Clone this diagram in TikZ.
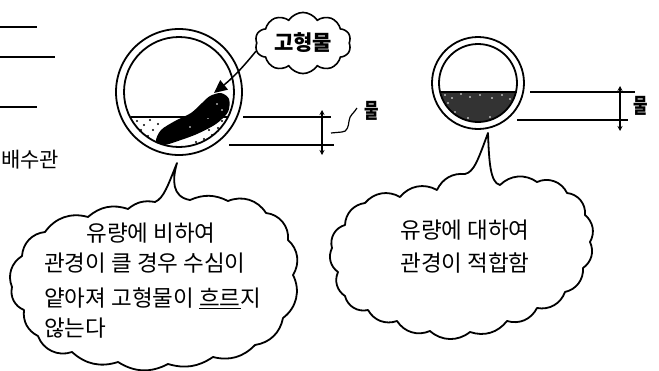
\documentclass[tikz,border=0pt]{standalone}
\usepackage{fontspec}
\setmainfont{Noto Sans CJK KR}
\usetikzlibrary{arrows.meta,shapes.symbols,positioning}

\tikzset{
  pipe/.style={line width=1.8pt},
  bubble/.style={line width=1.8pt, line join=round, fill=white},
  dimline/.style={line width=1.1pt},
  say/.style={font=\fontsize{22.5}{22.5}\selectfont, inner sep=0pt},
  depth/.style={xscale=.75, inner sep=0pt, font=\bfseries\fontsize{21}{21}\selectfont},
}

\begin{document}
\begin{tikzpicture}[x=1pt,y=-1pt]
  \useasboundingbox (0,0) rectangle (659,370);

  % cut-off lines of the drain pipe drawn on the left
  \draw[line width=1.5pt] (0,27) -- (37,27);
  \draw[line width=2.3pt] (0,57) -- (55,57);
  \draw[line width=1.5pt] (0,107) -- (37,107);
  \node[anchor=west, inner sep=0pt, font=\fontsize{21}{21}\selectfont] (drain) at (1,160) {배수관};

  % pipe too big: thin layer of water, solids stuck
  \begin{scope}
    \clip (179,92) circle[radius=55];
    \foreach \p in {(137,121),(144,125),(150,120),(141,130),(153,130),(158,124),
                    (148,136),(165,147),(172,150),(180,152),(188,147),(196,142),
                    (204,139),(212,135),(218,128),(222,121),(209,130),(200,146),
                    (190,152),(215,122),(160,139),(226,124)}
      \fill \p circle[radius=1.1];
  \end{scope}
  \fill plot[smooth cycle] coordinates {(156,141) (161,130) (175,121) (191,113)
    (202,103) (210,96) (221,93) (229,99) (228,112) (216,124) (197,134) (178,141) (164,145)};
  \foreach \p in {(217,104),(222,110),(208,118),(190,127)}
    \fill[white] \p circle[radius=.8];
  \draw[line width=1.3pt] (131,117) -- (228,117);
  \draw[pipe] (179,92) circle[radius=63];
  \draw[pipe] (179,92) circle[radius=55];
  \coordinate (lump) at (214,93);

  % label cloud and its arrow
  \node[cloud, draw, line width=1.6pt, cloud puffs=10, cloud puff arc=115, aspect=1.65,
        minimum width=96pt, minimum height=58pt, inner sep=0pt,
        font=\bfseries\fontsize{21}{21}\selectfont] (solid) at (303,43) {고형물};
  \draw[line width=1.5pt, -{Triangle[length=13pt,width=12pt]}] (solid.190) to[bend left=6] (lump);

  % depth marks, left
  \draw[dimline] (243,117) -- (331,117);
  \draw[dimline] (229,145) -- (334,145);
  \draw[dimline, {Stealth[length=5pt,width=5pt]}-{Stealth[length=5pt,width=5pt]}] (322,110) -- (322,155);
  \coordinate (tickL) at (331,133);
  \node[depth] (depthL) at (372,111) {물};
  \draw[line width=1.2pt] (tickL) -- (342,132) to[out=0,in=-95] (349,121) to[out=85,in=-120] (357,108);

  % pipe of the right size
  \begin{scope}
    \clip (478,83) circle[radius=39];
    \fill[black!80] (430,92) rectangle (530,130);
    \foreach \p in {(445,95),(452,98),(461,94),(470,97),(480,95),(492,98),(502,95),(510,99),
                    (448,103),(515,105),(505,112),(455,112),(468,118),(490,117),(498,121)}
      \fill[white] \p circle[radius=.9];
  \end{scope}
  \draw[line width=1.3pt] (440,92) -- (517,92);
  \draw[pipe] (478,83) circle[radius=46];
  \draw[pipe] (478,83) circle[radius=39];

  % depth marks, right
  \draw[dimline] (530,92) -- (635,92);
  \draw[dimline] (517,120) -- (628,120);
  \draw[dimline, {Stealth[length=5pt,width=5pt]}-{Stealth[length=5pt,width=5pt]}] (620,86) -- (620,131);
  \node[depth] (depthR) at (641,106) {물};

  % speech bubble, left
  \draw[bubble] (177,163) .. controls (172,180) and (172,197) .. (190,200)
    to[bend left=25] (228,201) to[bend left=40] (266,213) to[bend left=45] (288,240)
    to[bend left=40] (293,275) to[bend left=40] (283,318) to[bend left=35] (255,345)
    to[bend left=30] (213,357) to[bend left=25] (168,364) to[bend left=30] (118,362)
    to[bend left=30] (72,352) to[bend left=45] (38,336) to[bend left=35] (24,310)
    to[bend left=40] (12,287) to[bend left=40] (22,256) to[bend left=40] (45,232)
    to[bend left=35] (88,217) to[bend left=30] (128,209) to[bend left=25] (155,202)
    .. controls (164,198) and (168,185) .. (177,163) -- cycle;
  \node[say] (slow1) at (151,233) {유량에 비하여};
  \node[say, anchor=west] (slow2) at (44,263) {관경이 클 경우 수심이};
  \node[say, anchor=west] (slow3) at (44,298) {얕아져 고형물이 \underline{흐르}지};
  \node[say, anchor=west] (slow4) at (44,328) {않는다};

  % speech bubble, right
  \draw[bubble] (488,133) .. controls (489,160) and (490,183) .. (500,185)
    to[bend left=40] (537,182) to[bend left=45] (567,193) to[bend left=45] (585,215)
    to[bend left=40] (590,242) to[bend left=40] (583,268) to[bend left=40] (565,292)
    to[bend left=40] (537,308) to[bend left=40] (507,321) to[bend left=35] (470,332)
    to[bend left=40] (430,331) to[bend left=40] (397,321) to[bend left=40] (368,310)
    to[bend left=45] (345,296) to[bend left=40] (338,272) to[bend left=40] (332,248)
    to[bend left=45] (345,225) to[bend left=40] (365,203) to[bend left=40] (400,197)
    to[bend left=40] (437,190) to[bend left=35] (465,174)
    .. controls (474,172) and (478,160) .. (488,133) -- cycle;
  \node[say] (fit1) at (465,230) {유량에 대하여};
  \node[say] (fit2) at (465,263) {관경이 적합함};
\end{tikzpicture}
\end{document}
